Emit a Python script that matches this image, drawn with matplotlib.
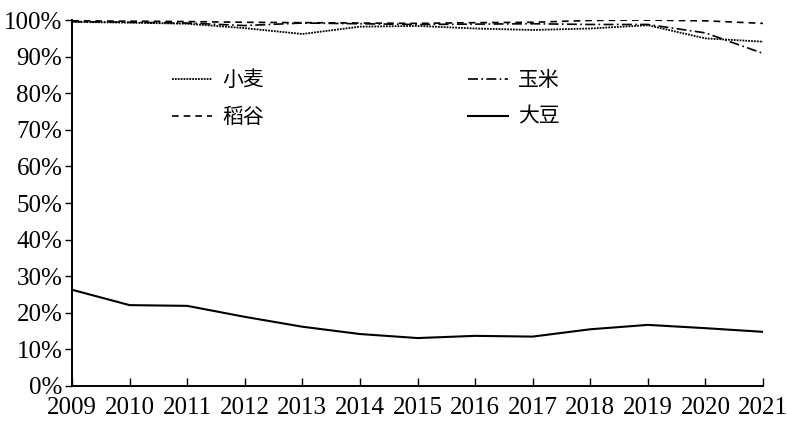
import matplotlib.pyplot as plt
from matplotlib.ticker import FuncFormatter

plt.rcParams['font.family'] = ['Liberation Serif', 'Noto Sans CJK SC']

years = list(range(2009, 2022))
# 自给率 (%)
wheat = [99.5, 99.3, 99.0, 97.8, 96.2, 98.2, 98.4, 97.7, 97.3, 97.7, 98.6, 95.0, 94.1]
rice = [99.8, 99.7, 99.6, 99.4, 99.3, 99.2, 99.1, 99.3, 99.4, 99.9, 100.0, 99.8, 99.1]
corn = [99.6, 99.4, 99.2, 98.5, 99.2, 99.0, 98.8, 98.9, 99.0, 98.8, 98.8, 96.5, 90.9]
soybean = [26.3, 22.1, 21.9, 18.9, 16.2, 14.2, 13.1, 13.7, 13.5, 15.5, 16.7, 15.8, 14.8]

fig = plt.figure(figsize=(7.87, 4.23), dpi=100)
ax = fig.add_axes([0.0915, 0.0875, 0.878, 0.865])

ax.plot(years, wheat, color='black', linestyle=(0, (1, 0.6)), linewidth=1.3, label='小麦')
ax.plot(years, rice, color='black', linestyle=(0, (4, 3)), linewidth=1.2, label='稻谷')
ax.plot(years, corn, color='black', linestyle=(0, (6, 2, 1, 2)), linewidth=1.2, label='玉米')
ax.plot(years, soybean, color='black', linestyle='-', linewidth=1.5, label='大豆')

ax.set_xlim(2009, 2021)
ax.set_ylim(0, 100)
ax.set_xticks(years)
ax.set_yticks(range(0, 101, 10))
ax.yaxis.set_major_formatter(FuncFormatter(lambda v, p: f'{v:.0f}%'))
ax.tick_params(axis='x', direction='in', length=6, width=1, labelsize=18, pad=8)
ax.tick_params(axis='y', direction='out', length=5, width=1, labelsize=18, pad=2)

for s in ['top', 'right']:
    ax.spines[s].set_visible(False)
for s in ['left', 'bottom']:
    ax.spines[s].set_linewidth(1.4)

ax.legend(loc='upper left', bbox_to_anchor=(0.118, 0.918), ncol=2, frameon=False,
          columnspacing=9.8, handlelength=1.9, handletextpad=0.5, labelspacing=0.72,
          prop={'family': ['Noto Sans CJK SC'], 'size': 15})

fig.savefig('out.png', dpi=100)
